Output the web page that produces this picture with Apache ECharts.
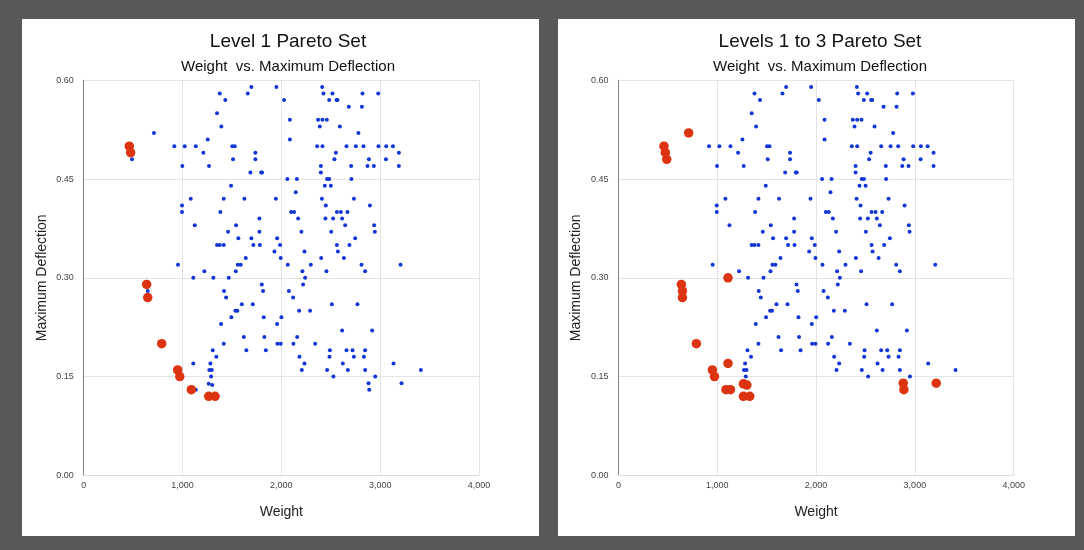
<!DOCTYPE html>
<html><head><meta charset="utf-8">
<script src="https://cdn.jsdelivr.net/npm/echarts@6/dist/echarts.min.js"></script>
<style>
html,body{margin:0;padding:0;background:#595959;width:1084px;height:550px;overflow:hidden}
.panel{position:absolute;top:19px;width:517px;height:517px;background:#fff}
#p1{left:22px}
#p2{left:558px}
</style></head><body>
<div id="p1" class="panel"></div>
<div id="p2" class="panel"></div>
<script>
// ---- data (Weight, Maximum Deflection) ----
const titles = ['Level 1 Pareto Set', 'Levels 1 to 3 Pareto Set'];
const subtitle = 'Weight  vs. Maximum Deflection';
const xName = 'Weight';
const yName = 'Maximum Deflection';
const xTicks = [0, 1000, 2000, 3000, 4000];
const yTicks = [0, 0.15, 0.30, 0.45, 0.60];

// designs that are not in any Pareto level shown
const otherPoints = [
[1697,0.59],[1950,0.59],[2413,0.59],
[1377,0.58],[1660,0.58],[2426,0.58],[2517,0.58],[2821,0.58],[2980,0.58],
[1433,0.57],[2028,0.57],[2484,0.57],[2558,0.57],[2568,0.57],
[2683,0.56],[2815,0.56],
[1349,0.55],
[2086,0.54],[2372,0.54],[2416,0.54],[2460,0.54],
[1393,0.53],[2389,0.53],[2592,0.53],
[2780,0.52],
[1255,0.51],[2086,0.51],
[917,0.50],[1022,0.50],[1134,0.50],[1504,0.50],[1529,0.50],[2362,0.50],[2416,0.50],[2659,0.50],[2754,0.50],[2831,0.50],[2983,0.50],[3061,0.50],[3129,0.50],
[1211,0.49],[1737,0.49],[2552,0.49],[3189,0.49],
[1511,0.48],[1737,0.48],[2537,0.48],[2886,0.48],[3058,0.48],
[998,0.47],[1268,0.47],[2400,0.47],[2706,0.47],[2872,0.47],[2936,0.47],[3189,0.47],
[1687,0.46],[1795,0.46],[1805,0.46],[2400,0.46],
[2061,0.45],[2157,0.45],[2463,0.45],[2484,0.45],[2709,0.45],
[1491,0.44],[2440,0.44],[2501,0.44],
[2146,0.43],
[1083,0.42],[1417,0.42],[1626,0.42],[1944,0.42],[2410,0.42],[2734,0.42],
[995,0.41],[2450,0.41],[2896,0.41],
[995,0.40],[1383,0.40],[2099,0.40],[2129,0.40],[2562,0.40],[2602,0.40],[2669,0.40],
[1778,0.39],[2170,0.39],[2446,0.39],[2524,0.39],[2615,0.39],
[1124,0.38],[1542,0.38],[2646,0.38],[2939,0.38],
[1461,0.37],[1778,0.37],[2203,0.37],[2504,0.37],[2946,0.37],
[1565,0.36],[1697,0.36],[1957,0.36],[2747,0.36],
[1349,0.35],[1377,0.35],[1417,0.35],[1717,0.35],[1782,0.35],[1987,0.35],[2562,0.35],[2689,0.35],
[1930,0.34],[2234,0.34],[2572,0.34],
[1640,0.33],[1994,0.33],[2403,0.33],[2633,0.33],
[954,0.32],[1559,0.32],[1589,0.32],[2065,0.32],[2298,0.32],[2811,0.32],[3206,0.32],
[1221,0.31],[1539,0.31],[2213,0.31],[2456,0.31],[2848,0.31],
[1312,0.30],[1468,0.30],[2241,0.30],
[1802,0.29],[2220,0.29],
[1420,0.28],[1815,0.28],[2076,0.28],
[1441,0.27],[2119,0.27],
[1600,0.26],[1711,0.26],[2511,0.26],[2770,0.26],
[1535,0.25],[1555,0.25],[2180,0.25],[2291,0.25],
[1494,0.24],[1822,0.24],[2001,0.24],
[1390,0.23],[1957,0.23],
[2615,0.22],[2919,0.22],
[1620,0.21],[1828,0.21],[2160,0.21],
[1417,0.20],[1960,0.20],[1994,0.20],[2122,0.20],[2342,0.20],
[1306,0.19],[1646,0.19],[1843,0.19],[2491,0.19],[2659,0.19],[2720,0.19],[2848,0.19],
[1342,0.18],[2183,0.18],[2487,0.18],[2734,0.18],[2835,0.18],
[1282,0.17],[2234,0.17],[2622,0.17],[3135,0.17],
[1271,0.16],[1296,0.16],[2207,0.16],[2463,0.16],[2673,0.16],[2848,0.16],[3412,0.16],
[1289,0.15],[2527,0.15],[2950,0.15]
];

// Level 1 Pareto set
const level1Points = [
[461,0.50],[475,0.49],[637,0.29],[648,0.27],[789,0.20],
[951,0.16],[972,0.15],[1089,0.13],[1265,0.12],[1329,0.12]
];

// Pareto levels 2 and 3 (blue in the left chart, red in the right chart)
const level23Points = [
[489,0.48],[711,0.52],[648,0.28],[1109,0.30],[1109,0.17],[1134,0.13],
[1265,0.139],[1300,0.137],[2882,0.14],[2889,0.13],[3216,0.14]
];

const BLUE = '#1236d6';
const RED = '#dc3410';
const FONT = '"Liberation Sans", Arial, sans-serif';

function makeOption(title, center, gridLeft, bluePts, redPts) {
  return {
    animation: false,
    backgroundColor: '#ffffff',
    textStyle: { fontFamily: FONT },
    title: [
      { text: title, left: center, top: 8, textAlign: 'center',
        textStyle: { fontFamily: FONT, fontSize: 19, fontWeight: 'normal', color: '#111' } },
      { text: subtitle, left: center, top: 35, textAlign: 'center',
        textStyle: { fontFamily: FONT, fontSize: 15, fontWeight: 'normal', color: '#111' } }
    ],
    grid: { left: gridLeft, top: 61.3, width: 395.3, height: 395, containLabel: false },
    xAxis: {
      type: 'value', min: xTicks[0], max: xTicks[xTicks.length - 1], interval: xTicks[1] - xTicks[0],
      name: xName, nameLocation: 'middle', nameGap: 30, nameMoveOverlap: false,
      nameTextStyle: { fontFamily: FONT, fontSize: 14, color: '#222' },
      axisLine: { show: true, lineStyle: { color: '#dedede' } },
      axisTick: { show: false },
      splitLine: { show: true, lineStyle: { color: '#e4e4e4' } },
      axisLabel: { fontFamily: FONT, fontSize: 9, color: '#444', margin: 6,
        formatter: v => v.toLocaleString('en-US') }
    },
    yAxis: {
      type: 'value', min: yTicks[0], max: yTicks[yTicks.length - 1], interval: yTicks[1] - yTicks[0],
      name: yName, nameLocation: 'middle', nameGap: 35, nameRotate: 90, nameMoveOverlap: false,
      nameTextStyle: { fontFamily: FONT, fontSize: 14, color: '#222' },
      axisLine: { show: true, lineStyle: { color: '#808080' } },
      axisTick: { show: false },
      splitLine: { show: true, lineStyle: { color: '#e4e4e4' } },
      axisLabel: { fontFamily: FONT, fontSize: 9, color: '#444', margin: 10,
        formatter: v => v.toFixed(2) }
    },
    series: [
      { type: 'scatter', data: bluePts, symbol: 'circle', symbolSize: 4,
        itemStyle: { color: BLUE, opacity: 1 }, z: 2 },
      { type: 'scatter', data: redPts, symbol: 'circle', symbolSize: 9.5,
        itemStyle: { color: RED, opacity: 1 }, z: 3 }
    ]
  };
}

const c1 = echarts.init(document.getElementById('p1'));
c1.setOption(makeOption(titles[0], 261, 61.7, otherPoints.concat(level23Points), level1Points));
const c2 = echarts.init(document.getElementById('p2'));
c2.setOption(makeOption(titles[1], 257, 60.4, otherPoints, level1Points.concat(level23Points)));
</script>
</body></html>
